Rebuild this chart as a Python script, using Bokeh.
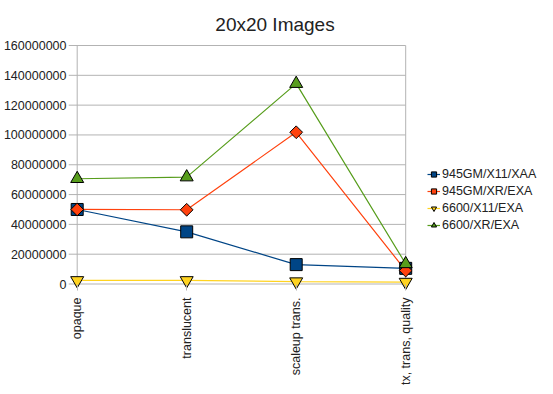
import math
from bokeh.plotting import figure
from bokeh.models import (ColumnDataSource, FixedTicker, Label, Legend, LegendItem,
                          NumeralTickFormatter, Range1d)
from bokeh.embed import file_html
from bokeh.resources import INLINE

categories = ["opaque", "translucent", "scaleup trans.", "tx, trans, quality"]
series_names = ["945GM/X11/XAA", "945GM/XR/EXA", "6600/X11/EXA", "6600/XR/EXA"]
gm_x11_xaa = [50000000, 35000000, 13000000, 10500000]
gm_xr_exa = [50000000, 49800000, 101800000, 9000000]
n6600_x11_exa = [2400000, 2400000, 1600000, 1300000]
n6600_xr_exa = [70600000, 71700000, 134400000, 13500000]
y_ticks = [0, 20000000, 40000000, 60000000, 80000000, 100000000,
           120000000, 140000000, 160000000]
title_text = "20x20 Images"

colors = ["#004586", "#ff420e", "#ffd320", "#579d1c"]
markers = ["square", "square", "inverted_triangle", "triangle"]
angles = [0, math.pi / 4, 0, 0]
sizes = [12, 9, 13, 13]
all_series = [gm_x11_xaa, gm_xr_exa, n6600_x11_exa, n6600_xr_exa]

FONT = "Liberation Sans"
TXT = "#222222"
GRID = "#b3b3b3"

# layout (pixels)
W, H = 553, 394
LEFT, BOTTOM = 68, 104
PX_PER_CAT = 109.5
PAD_L_PX = 8.7            # frame left edge -> first category
TOP_PX = 45.0             # canvas top -> top gridline
PLOT_H_PX = 238.5         # zero line -> top gridline
PAD_B_PX = 6.5            # zero line -> frame bottom
y_top = y_ticks[-1]
n_last = len(categories) - 1
x_start = -PAD_L_PX / PX_PER_CAT
x_end = x_start + (W - LEFT) / PX_PER_CAT
y_start = -PAD_B_PX / PLOT_H_PX * y_top
y_end = y_top + TOP_PX / PLOT_H_PX * y_top

p = figure(width=W, height=H, output_backend="svg", toolbar_location=None,
           x_range=Range1d(x_start, x_end), y_range=Range1d(y_start, y_end),
           min_border_left=LEFT, min_border_right=0, min_border_top=0,
           min_border_bottom=BOTTOM)
p.background_fill_color = "white"
p.border_fill_color = "white"
p.outline_line_color = None

p.add_layout(Label(x=274.5, y=24, x_units="canvas", y_units="canvas",
                   text=title_text, text_align="center",
                   text_baseline="alphabetic", text_font=FONT,
                   text_font_size="19px", text_color=TXT))

x_idx = list(range(len(categories)))

# grid lines and plot-area edges
p.segment(x0=[x_start] * len(y_ticks), x1=[n_last] * len(y_ticks),
          y0=y_ticks, y1=y_ticks, line_color=GRID, line_width=1)
p.segment(x0=[0, n_last], x1=[0, n_last], y0=[0, 0], y1=[y_top, y_top],
          line_color=GRID, line_width=1)

line_rs = []
for vals, c in zip(all_series, colors):
    src = ColumnDataSource(dict(x=x_idx, y=vals))
    line_rs.append(p.line("x", "y", source=src, line_color=c, line_width=1.2))

mark_rs = []
for vals, c, m, s, a in zip(all_series, colors, markers, sizes, angles):
    src = ColumnDataSource(dict(x=x_idx, y=vals))
    mark_rs.append(p.scatter("x", "y", source=src, marker=m, size=s, angle=a,
                             fill_color=c, line_color="black", line_width=1))

# axes
p.xaxis.ticker = FixedTicker(ticks=x_idx)
p.xaxis.major_label_overrides = {i: c for i, c in enumerate(categories)}
p.xaxis.major_label_orientation = math.pi / 2
p.xaxis.major_tick_in = 6
p.xaxis.major_tick_out = 0
p.xaxis.minor_tick_line_color = None
p.xaxis.axis_line_color = None
p.xaxis.major_tick_line_color = GRID
p.xaxis.major_label_standoff = 7
p.xaxis.major_label_text_font = FONT
p.xaxis.major_label_text_font_size = "12.5px"
p.xaxis.major_label_text_color = TXT

p.yaxis.ticker = FixedTicker(ticks=y_ticks)
p.yaxis.formatter = NumeralTickFormatter(format="0")
p.yaxis.major_tick_in = 0
p.yaxis.major_tick_out = 0
p.yaxis.minor_tick_line_color = None
p.yaxis.axis_line_color = None
p.yaxis.major_tick_line_color = None
p.yaxis.major_label_standoff = 2
p.yaxis.major_label_text_font = FONT
p.yaxis.major_label_text_font_size = "12.5px"
p.yaxis.major_label_text_color = TXT

p.xgrid.grid_line_color = None
p.ygrid.grid_line_color = None

items = [LegendItem(label=n, renderers=[lr, mr])
         for n, lr, mr in zip(series_names, line_rs, mark_rs)]
legend = Legend(items=items, location=(359, 58), orientation="vertical",
                glyph_width=13, glyph_height=14, label_height=14, spacing=3,
                padding=0, margin=0, label_standoff=2,
                label_text_font=FONT, label_text_font_size="12.5px",
                label_text_color=TXT, border_line_color=None,
                background_fill_alpha=0)
p.add_layout(legend, "center")

open("out.html", "w").write(file_html(p, INLINE))
